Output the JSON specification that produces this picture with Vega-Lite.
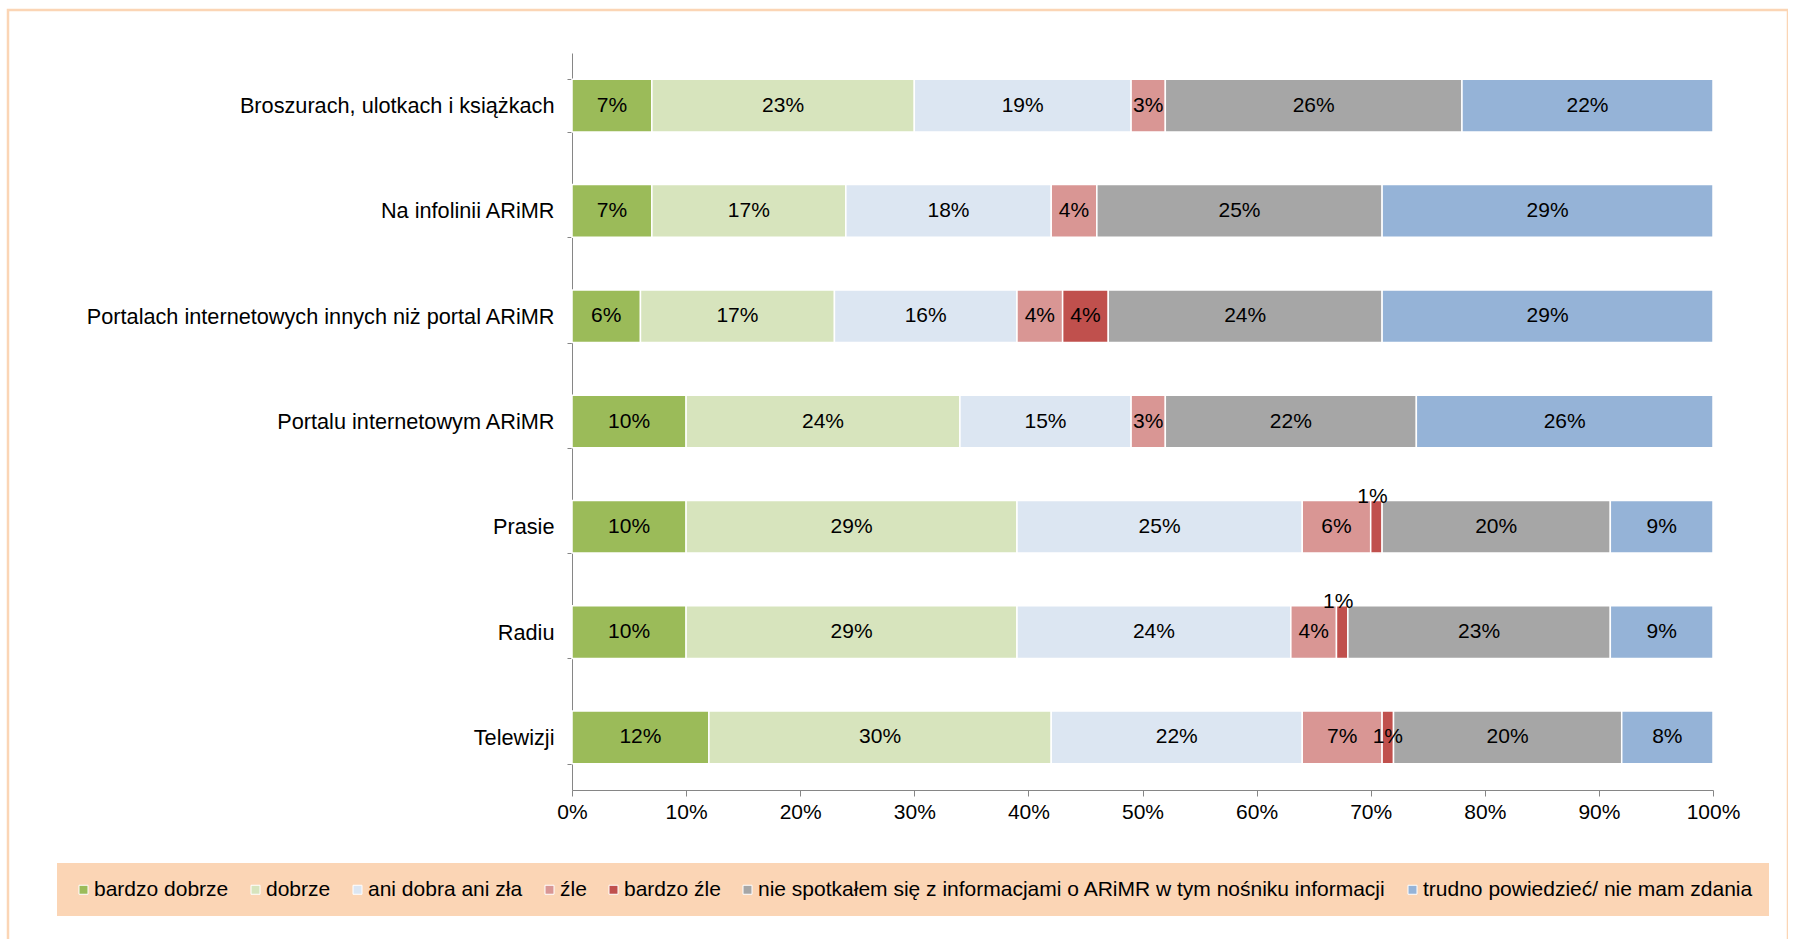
{
  "$schema": "https://vega.github.io/schema/vega-lite/v6.json",
  "width": 1780,
  "height": 940,
  "autosize": {"type": "none"},
  "padding": {"left": 8, "top": 10, "right": 0, "bottom": 0},
  "background": "white",
  "config": {
    "view": {"stroke": "#FBD5B5", "strokeWidth": 2.5},
    "font": "Liberation Sans",
    "text": {"font": "Liberation Sans"}
  },
  "data": {
    "values": [
      {"medium": "Broszurach, ulotkach i książkach", "response": "bardzo dobrze", "value": 7},
      {"medium": "Broszurach, ulotkach i książkach", "response": "dobrze", "value": 23},
      {"medium": "Broszurach, ulotkach i książkach", "response": "ani dobra ani zła", "value": 19},
      {"medium": "Broszurach, ulotkach i książkach", "response": "źle", "value": 3},
      {"medium": "Broszurach, ulotkach i książkach", "response": "bardzo źle", "value": 0},
      {"medium": "Broszurach, ulotkach i książkach", "response": "nie spotkałem się z informacjami o ARiMR w tym nośniku informacji", "value": 26},
      {"medium": "Broszurach, ulotkach i książkach", "response": "trudno powiedzieć/ nie mam zdania", "value": 22},
      {"medium": "Na infolinii ARiMR", "response": "bardzo dobrze", "value": 7},
      {"medium": "Na infolinii ARiMR", "response": "dobrze", "value": 17},
      {"medium": "Na infolinii ARiMR", "response": "ani dobra ani zła", "value": 18},
      {"medium": "Na infolinii ARiMR", "response": "źle", "value": 4},
      {"medium": "Na infolinii ARiMR", "response": "bardzo źle", "value": 0},
      {"medium": "Na infolinii ARiMR", "response": "nie spotkałem się z informacjami o ARiMR w tym nośniku informacji", "value": 25},
      {"medium": "Na infolinii ARiMR", "response": "trudno powiedzieć/ nie mam zdania", "value": 29},
      {"medium": "Portalach internetowych innych niż portal ARiMR", "response": "bardzo dobrze", "value": 6},
      {"medium": "Portalach internetowych innych niż portal ARiMR", "response": "dobrze", "value": 17},
      {"medium": "Portalach internetowych innych niż portal ARiMR", "response": "ani dobra ani zła", "value": 16},
      {"medium": "Portalach internetowych innych niż portal ARiMR", "response": "źle", "value": 4},
      {"medium": "Portalach internetowych innych niż portal ARiMR", "response": "bardzo źle", "value": 4},
      {"medium": "Portalach internetowych innych niż portal ARiMR", "response": "nie spotkałem się z informacjami o ARiMR w tym nośniku informacji", "value": 24},
      {"medium": "Portalach internetowych innych niż portal ARiMR", "response": "trudno powiedzieć/ nie mam zdania", "value": 29},
      {"medium": "Portalu internetowym ARiMR", "response": "bardzo dobrze", "value": 10},
      {"medium": "Portalu internetowym ARiMR", "response": "dobrze", "value": 24},
      {"medium": "Portalu internetowym ARiMR", "response": "ani dobra ani zła", "value": 15},
      {"medium": "Portalu internetowym ARiMR", "response": "źle", "value": 3},
      {"medium": "Portalu internetowym ARiMR", "response": "bardzo źle", "value": 0},
      {"medium": "Portalu internetowym ARiMR", "response": "nie spotkałem się z informacjami o ARiMR w tym nośniku informacji", "value": 22},
      {"medium": "Portalu internetowym ARiMR", "response": "trudno powiedzieć/ nie mam zdania", "value": 26},
      {"medium": "Prasie", "response": "bardzo dobrze", "value": 10},
      {"medium": "Prasie", "response": "dobrze", "value": 29},
      {"medium": "Prasie", "response": "ani dobra ani zła", "value": 25},
      {"medium": "Prasie", "response": "źle", "value": 6},
      {"medium": "Prasie", "response": "bardzo źle", "value": 1},
      {"medium": "Prasie", "response": "nie spotkałem się z informacjami o ARiMR w tym nośniku informacji", "value": 20},
      {"medium": "Prasie", "response": "trudno powiedzieć/ nie mam zdania", "value": 9},
      {"medium": "Radiu", "response": "bardzo dobrze", "value": 10},
      {"medium": "Radiu", "response": "dobrze", "value": 29},
      {"medium": "Radiu", "response": "ani dobra ani zła", "value": 24},
      {"medium": "Radiu", "response": "źle", "value": 4},
      {"medium": "Radiu", "response": "bardzo źle", "value": 1},
      {"medium": "Radiu", "response": "nie spotkałem się z informacjami o ARiMR w tym nośniku informacji", "value": 23},
      {"medium": "Radiu", "response": "trudno powiedzieć/ nie mam zdania", "value": 9},
      {"medium": "Telewizji", "response": "bardzo dobrze", "value": 12},
      {"medium": "Telewizji", "response": "dobrze", "value": 30},
      {"medium": "Telewizji", "response": "ani dobra ani zła", "value": 22},
      {"medium": "Telewizji", "response": "źle", "value": 7},
      {"medium": "Telewizji", "response": "bardzo źle", "value": 1},
      {"medium": "Telewizji", "response": "nie spotkałem się z informacjami o ARiMR w tym nośniku informacji", "value": 20},
      {"medium": "Telewizji", "response": "trudno powiedzieć/ nie mam zdania", "value": 8}
    ]
  },
  "transform": [
    {"calculate": "indexof(['bardzo dobrze','dobrze','ani dobra ani zła','źle','bardzo źle','nie spotkałem się z informacjami o ARiMR w tym nośniku informacji','trudno powiedzieć/ nie mam zdania'], datum.response)", "as": "k"},
    {"stack": "value", "groupby": ["medium"], "sort": [{"field": "k", "order": "ascending"}], "as": ["v0", "v1"]},
    {"calculate": "(datum.v0 + datum.v1) / 2", "as": "mid"},
    {"calculate": "datum.value + '%'", "as": "lbl"},
    {"filter": "datum.value > 0"}
  ],
  "encoding": {
    "y": {
      "field": "medium",
      "type": "nominal",
      "sort": ["Broszurach, ulotkach i książkach", "Na infolinii ARiMR", "Portalach internetowych innych niż portal ARiMR", "Portalu internetowym ARiMR", "Prasie", "Radiu", "Telewizji"],
      "scale": {"range": [43, 780], "paddingInner": 0.5, "paddingOuter": 0.25},
      "axis": {
        "title": null,
        "orient": "left",
        "offset": -564,
        "domainColor": "#868686",
        "tickColor": "#868686",
        "tickSize": 5,
        "tickBand": "extent",
        "labelFontSize": 21.7,
        "labelColor": "#000000",
        "labelPadding": 13,
        "labelLimit": 0,
        "labelFont": "Liberation Sans"
      }
    }
  },
  "layer": [
    {
      "mark": {"type": "bar", "stroke": "white", "strokeWidth": 1.5},
      "encoding": {
        "x": {
          "field": "v0",
          "type": "quantitative",
          "scale": {"domain": [0, 100], "range": [564, 1705], "nice": false, "zero": false},
          "axis": {
            "title": null,
            "orient": "bottom",
            "offset": -160,
            "values": [0, 10, 20, 30, 40, 50, 60, 70, 80, 90, 100],
            "labelExpr": "datum.value + '%'",
            "grid": false,
            "domainColor": "#868686",
            "tickColor": "#868686",
            "tickSize": 6,
            "labelFontSize": 21,
            "labelColor": "#000000",
            "labelPadding": 5,
            "labelFont": "Liberation Sans",
            "labelFlush": false
          }
        },
        "x2": {"field": "v1"},
        "color": {
          "field": "response",
          "type": "nominal",
          "scale": {
            "domain": ["bardzo dobrze", "dobrze", "ani dobra ani zła", "źle", "bardzo źle", "nie spotkałem się z informacjami o ARiMR w tym nośniku informacji", "trudno powiedzieć/ nie mam zdania"],
            "range": ["#9BBB59", "#D7E4BD", "#DCE6F2", "#D99694", "#C0504D", "#A6A6A6", "#95B3D7"]
          },
          "legend": {
            "title": null,
            "orient": "none",
            "legendX": 49,
            "legendY": 853,
            "direction": "horizontal",
            "columns": 7,
            "fillColor": "#FBD5B5",
            "padding": 16,
            "labelFontSize": 21,
            "labelColor": "#000000",
            "labelFont": "Liberation Sans",
            "labelLimit": 0,
            "labelOffset": 0,
            "symbolType": "square",
            "symbolSize": 81,
            "symbolStrokeColor": "white",
            "symbolStrokeWidth": 1,
            "columnPadding": 16
          }
        }
      }
    },
    {
      "transform": [{"filter": "!(datum.response == 'bardzo źle' && (datum.medium == 'Prasie' || datum.medium == 'Radiu'))"}],
      "mark": {"type": "text", "fontSize": 21, "color": "#000000", "baseline": "middle", "align": "center"},
      "encoding": {
        "x": {"field": "mid", "type": "quantitative"},
        "text": {"field": "lbl"}
      }
    },
    {
      "transform": [{"filter": "datum.response == 'bardzo źle' && (datum.medium == 'Prasie' || datum.medium == 'Radiu')"}],
      "mark": {"type": "text", "fontSize": 21, "color": "#000000", "baseline": "middle", "align": "center", "dy": -30, "dx": -4},
      "encoding": {
        "x": {"field": "mid", "type": "quantitative"},
        "text": {"field": "lbl"}
      }
    }
  ]
}
